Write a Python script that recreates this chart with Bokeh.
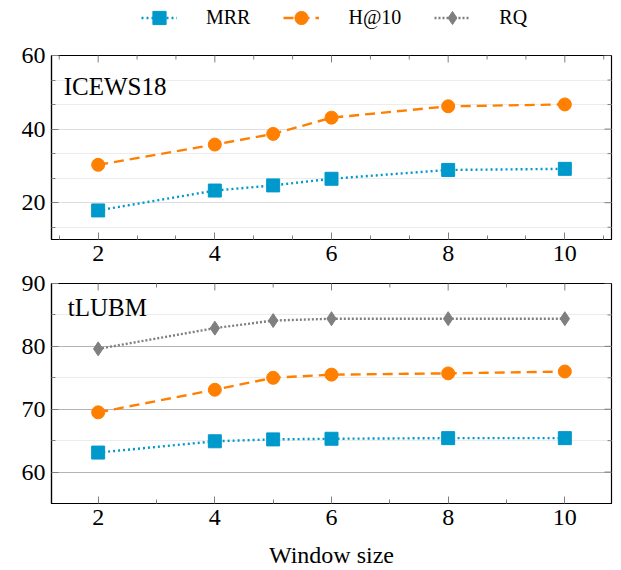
import math
from bokeh.plotting import figure
from bokeh.layouts import column
from bokeh.models import FixedTicker, Legend, LegendItem, Label, Range1d
from bokeh.embed import file_html
from bokeh.resources import INLINE

window = [2, 4, 5, 6, 8, 10]
icews_mrr = [17.9, 23.3, 24.7, 26.5, 28.9, 29.2]
icews_h10 = [30.3, 35.8, 38.7, 43.1, 46.2, 46.7]
tlubm_rq = [79.6, 82.9, 84.1, 84.4, 84.4, 84.4]
tlubm_h10 = [69.5, 73.1, 75.0, 75.5, 75.7, 76.0]
tlubm_mrr = [63.1, 64.9, 65.2, 65.3, 65.4, 65.4]

x_lim = (1.2, 10.8)
x_major = [2, 4, 6, 8, 10]
x_minor_top = [1.333, 2.667, 3.333, 4.667, 5.333, 6.667, 7.333, 8.667, 9.333, 10.667]
x_minor_bottom = [3, 5, 7, 9]
y_lim_top = (10, 60)
y_major_top = [20, 40, 60]
y_minor_top = [13.333, 26.667, 33.333, 46.667, 53.333]
y_lim_bottom = (55, 90)
y_major_bottom = [60, 70, 80, 90]
y_minor_bottom = [65, 75, 85]

C_MRR = "#0099cc"
C_H10 = "#ff7f00"
C_RQ = "#7f7f7f"
FONT = "Liberation Serif"
TICK = "#7f7f7f"

STYLES = {
    "MRR": dict(color=C_MRR, dash="2 3", marker="square", size=13),
    "H@10": dict(color=C_H10, dash="10 6", marker="circle", size=13),
    "RQ": dict(color=C_RQ, dash="2 2", marker="diamond", size=14),
}


def style_axis(ax, ticker):
    ax.ticker = ticker
    ax.axis_line_color = "black"
    ax.axis_line_width = 1.2
    ax.major_tick_in = 7
    ax.major_tick_out = 0
    ax.minor_tick_in = 4
    ax.minor_tick_out = 0
    ax.major_tick_line_color = TICK
    ax.minor_tick_line_color = TICK
    ax.major_label_text_font = FONT
    ax.major_label_text_font_size = "24px"
    ax.major_label_text_color = "black"
    ax.major_label_standoff = 6


def make_fig(height, ylim, ymaj, ymin, xmin, top, bottom, major_grid, minor_grid):
    p = figure(width=621, height=height, x_range=Range1d(*x_lim), y_range=Range1d(*ylim),
               output_backend="svg", toolbar_location=None,
               min_border_left=51, min_border_right=10, min_border_top=top, min_border_bottom=bottom)
    p.outline_line_color = "black"
    p.outline_line_width = 1.2
    p.background_fill_color = "white"
    p.border_fill_color = "white"
    yt = FixedTicker(ticks=ymaj, minor_ticks=ymin)
    style_axis(p.xaxis[0], FixedTicker(ticks=x_major, minor_ticks=xmin))
    style_axis(p.yaxis[0], yt)
    p.xgrid.visible = False
    p.ygrid.ticker = yt
    p.ygrid.grid_line_color = major_grid
    p.ygrid.minor_grid_line_color = minor_grid
    # mirrored ticks on the right and top edges (half of each dash is clipped by the frame)
    p.scatter([x_lim[1]] * len(ymaj), ymaj, marker="dash", size=14, line_color=TICK, line_width=1)
    p.scatter([x_lim[1]] * len(ymin), ymin, marker="dash", size=8, line_color=TICK, line_width=1)
    p.scatter(x_major, [ylim[1]] * len(x_major), marker="dash", size=14, angle=math.pi / 2,
              line_color=TICK, line_width=1)
    p.scatter(xmin, [ylim[1]] * len(xmin), marker="dash", size=8, angle=math.pi / 2,
              line_color=TICK, line_width=1)
    return p


def series(p, name, xs, ys):
    st = STYLES[name]
    lr = p.line(xs, ys, line_color=st["color"], line_width=2.4, line_dash=st["dash"])
    sr = p.scatter(xs, ys, marker=st["marker"], size=st["size"], fill_color=st["color"], line_color=st["color"])
    return lr, sr


# ---- legend strip (series drawn outside its empty view, used only as legend sources) ----
pl = figure(width=621, height=40, x_range=Range1d(-1, 0), y_range=Range1d(-1, 0),
            output_backend="svg", toolbar_location=None,
            x_axis_location=None, y_axis_location=None,
            min_border_left=0, min_border_right=0, min_border_top=0, min_border_bottom=0)
pl.outline_line_color = None
pl.grid.visible = False
items = []
for name, ys in [("MRR", icews_mrr), ("H@10", icews_h10), ("RQ", tlubm_rq)]:
    items.append(LegendItem(label=name, renderers=list(series(pl, name, window, ys))))
legend = Legend(items=items, location=(90, 6), orientation="horizontal",
                glyph_width=36, glyph_height=33, label_standoff=29, spacing=33,
                padding=0, margin=0, border_line_color=None, background_fill_alpha=0,
                label_text_font=FONT, label_text_font_size="20px", label_text_color="black")
pl.add_layout(legend)

# ---- ICEWS18 ----
p1 = make_fig(230, y_lim_top, y_major_top, y_minor_top, x_minor_top, 15, 31, "#dedede", "#ececec")
series(p1, "H@10", window, icews_h10)
series(p1, "MRR", window, icews_mrr)
p1.add_layout(Label(x=1.41, y=51.6, text="ICEWS18", text_font=FONT, text_font_size="25px",
                    text_baseline="middle", text_color="black"))

# ---- tLUBM ----
p2 = make_fig(300, y_lim_bottom, y_major_bottom, y_minor_bottom, x_minor_bottom, 13, 67, "#b4b4b4", "#ececec")
series(p2, "RQ", window, tlubm_rq)
series(p2, "H@10", window, tlubm_h10)
series(p2, "MRR", window, tlubm_mrr)
p2.add_layout(Label(x=1.48, y=86.2, text="tLUBM", text_font=FONT, text_font_size="25px",
                    text_baseline="middle", text_color="black"))
xb = p2.xaxis[0]
xb.axis_label = "Window size"
xb.axis_label_text_font = FONT
xb.axis_label_text_font_size = "24px"
xb.axis_label_text_font_style = "normal"
xb.axis_label_text_color = "black"
xb.axis_label_standoff = 14

layout = column(pl, p1, p2, spacing=0)
open("out.html", "w").write(file_html(layout, INLINE))
